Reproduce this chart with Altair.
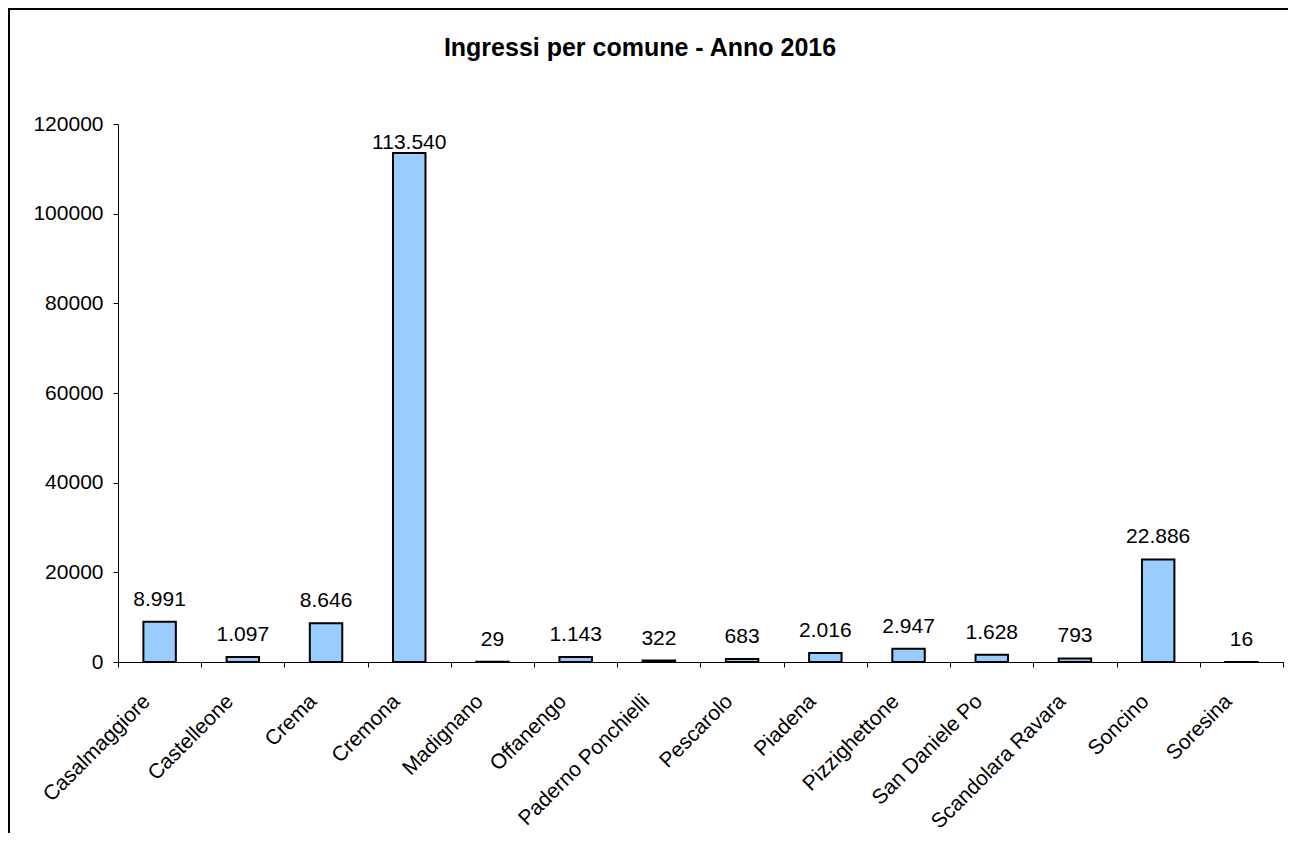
import altair as alt
import pandas as pd

comuni = ["Casalmaggiore", "Castelleone", "Crema", "Cremona", "Madignano", "Offanengo",
          "Paderno Ponchielli", "Pescarolo", "Piadena", "Pizzighettone", "San Daniele Po",
          "Scandolara Ravara", "Soncino", "Soresina"]
ingressi = [8991, 1097, 8646, 113540, 29, 1143, 322, 683, 2016, 2947, 1628, 793, 22886, 16]
y_ticks = [0, 20000, 40000, 60000, 80000, 100000, 120000]
titolo = "Ingressi per comune - Anno 2016"

df = pd.DataFrame({"comune": comuni, "ingressi": ingressi})
df["etichetta"] = [f"{v:,}".replace(",", ".") for v in ingressi]

FONT = "Liberation Sans"

x_enc = alt.X("comune:N", sort=None, title=None,
              scale=alt.Scale(paddingInner=0, paddingOuter=0),
              axis=alt.Axis(labelAngle=-45, labelAlign="right", labelBaseline="middle",
                            labelFontSize=21, labelFont=FONT, labelColor="black",
                            labelOffset=-13, labelPadding=31,
                            domainColor="black", tickColor="black", tickSize=5, tickBand="extent",
                            grid=False, labelOverlap=False))
y_scale = alt.Scale(domain=[0, 120000], nice=False)

bars = alt.Chart(df).mark_bar(
    width=alt.RelativeBandSize(0.39), fill="#99CCFF", stroke="black", strokeWidth=2
).encode(
    x=x_enc,
    y=alt.Y("ingressi:Q", scale=y_scale, title=None,
            axis=alt.Axis(values=y_ticks, format="d", labelFontSize=21, labelFont=FONT,
                          labelColor="black", domainColor="black", tickColor="black",
                          tickSize=5, labelPadding=10, grid=False)),
)

labels = alt.Chart(df).transform_calculate(
    ly="min(datum.ingressi + 3570, 114400)"
).mark_text(
    fontSize=21, font=FONT, color="black", baseline="alphabetic", align="center"
).encode(
    x=alt.X("comune:N", sort=None),
    y=alt.Y("ly:Q", scale=y_scale),
    text="etichetta:N",
)

deco = pd.DataFrame({"t": [titolo]})

frame = alt.Chart(deco).mark_rect(
    fill=None, stroke="black", strokeWidth=2
).encode(
    x=alt.value(-109), x2=alt.value(1400), y=alt.value(-115), y2=alt.value(1000)
)

title_mark = alt.Chart(deco).mark_text(
    font=FONT, fontSize=25, fontWeight="bold", color="black", align="center",
    baseline="alphabetic"
).encode(
    x=alt.value(522), y=alt.value(-68), text="t:N"
)

chart = alt.layer(frame, title_mark, bars, labels).properties(
    width=1165,
    height=538,
    autosize=alt.AutoSizeParams(type="none"),
    padding={"left": 110, "top": 116, "right": 5, "bottom": 171},
).configure(background="white", view=alt.ViewConfig(stroke=None))

chart.save("out.html", embed_options={"renderer": "svg", "actions": False})
